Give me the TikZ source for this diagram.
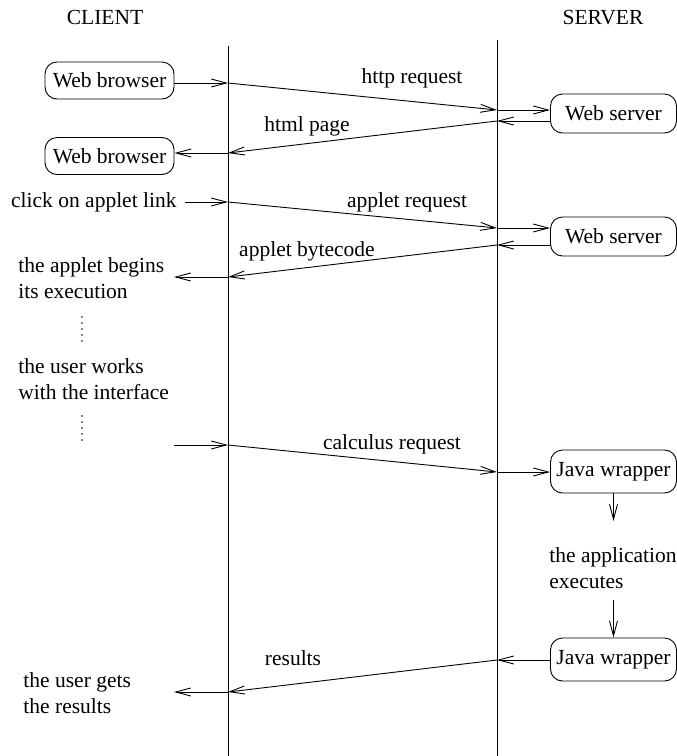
\documentclass[tikz,border=0pt]{standalone}
\usepackage{fontspec}
\setmainfont{Liberation Serif}
\usetikzlibrary{arrows.meta}
\begin{document}
\begin{tikzpicture}[x=1pt,y=-1pt,line width=0.9pt,
  font=\fontsize{21.5}{26}\selectfont,
  box/.style={draw, rounded corners=12pt, inner sep=0pt, minimum width=126pt},
  lbl/.style={inner sep=0pt, anchor=base},
  txt/.style={inner sep=0pt, align=left, anchor=north west},
  msg/.style={-{Straight Barb[length=15pt,width=8pt]}},
  dots/.style={line width=1.6pt, line cap=round, dash pattern=on 0pt off 6pt},
]
\useasboundingbox (0,0) rectangle (677,756);
% lifelines
\coordinate (ct) at (228,46);  \coordinate (cb) at (228,756);
\coordinate (st) at (497,40);  \coordinate (sb) at (497,756);
\draw (ct) -- (cb);
\draw (st) -- (sb);
% headers
\node[lbl] (client) at (105,24) {CLIENT};
\node[lbl] (server) at (603,24) {SERVER};
% boxes
\node[box, minimum width=129pt, minimum height=37pt] (wb1) at (109.5,80.5) {Web browser};
\node[box, minimum width=129pt, minimum height=37pt] (wb2) at (109.5,156) {Web browser};
\node[box, minimum height=39pt] (ws1) at (613.5,113.5) {Web server};
\node[box, minimum height=39pt] (ws2) at (613.5,236.5) {Web server};
\node[box, minimum height=43pt] (jw1) at (613.5,471.5) {Java wrapper};
\node[box, minimum height=43pt] (jw2) at (613.5,659.5) {Java wrapper};
% lifeline points
\coordinate (c1) at (228,83);  \coordinate (s1) at (497,110);
\coordinate (s1r) at (497,121); \coordinate (c1r) at (228,153);
\coordinate (c2) at (228,202); \coordinate (s2) at (497,228);
\coordinate (s2r) at (497,245); \coordinate (c2r) at (228,277);
\coordinate (c3) at (228,445); \coordinate (s3) at (497,472);
\coordinate (s4) at (497,660); \coordinate (c4) at (228,692);
% free ends
\coordinate (e2) at (174,277);
\coordinate (b3) at (174,445);
\coordinate (e4) at (174,692);
\coordinate (d1) at (613.5,521);
\coordinate (d2) at (613.5,600);
% texts
\node[lbl, anchor=base east] (click) at (177,207) {click on applet link};
\node[txt] (begins) at (18,257.2) {the applet begins\\its execution};
\node[txt] (works) at (18,358.2) {the user works\\with the interface};
\node[txt] (appl) at (549,547.2) {the application\\executes};
\node[txt] (gets) at (23,672.2) {the user gets\\the results};
% message labels
\node[lbl] (l1) at (412,83) {http request};
\node[lbl] (l2) at (307,131) {html page};
\node[lbl] (l3) at (407,207) {applet request};
\node[lbl] (l4) at (307,256) {applet bytecode};
\node[lbl] (l5) at (392,449) {calculus request};
\node[lbl] (l6) at (293,665) {results};
% messages
\draw[msg] (wb1.east |- c1) -- (c1);
\draw[msg] (c1) -- (s1);
\draw[msg] (s1) -- (ws1.west |- s1);
\draw[msg] (ws1.west |- s1r) -- (s1r);
\draw[msg] (s1r) -- (c1r);
\draw[msg] (c1r) -- (wb2.east |- c1r);
\draw[msg] ([xshift=8pt]click.east |- c2) -- (c2);
\draw[msg] (c2) -- (s2);
\draw[msg] (s2) -- (ws2.west |- s2);
\draw[msg] (ws2.west |- s2r) -- (s2r);
\draw[msg] (s2r) -- (c2r);
\draw[msg] (c2r) -- (e2);
\draw[msg] (b3) -- (c3);
\draw[msg] (c3) -- (s3);
\draw[msg] (s3) -- (jw1.west |- s3);
\draw[msg] (jw1.south) -- (d1);
\draw[msg] (d2) -- (jw2.north);
\draw[msg] (jw2.west |- s4) -- (s4);
\draw[msg] (s4) -- (c4);
\draw[msg] (c4) -- (e4);
% vertical dots
\draw[dots] (82,317) -- (82,343);
\draw[dots] (82,416) -- (82,440);
\end{tikzpicture}
\end{document}
